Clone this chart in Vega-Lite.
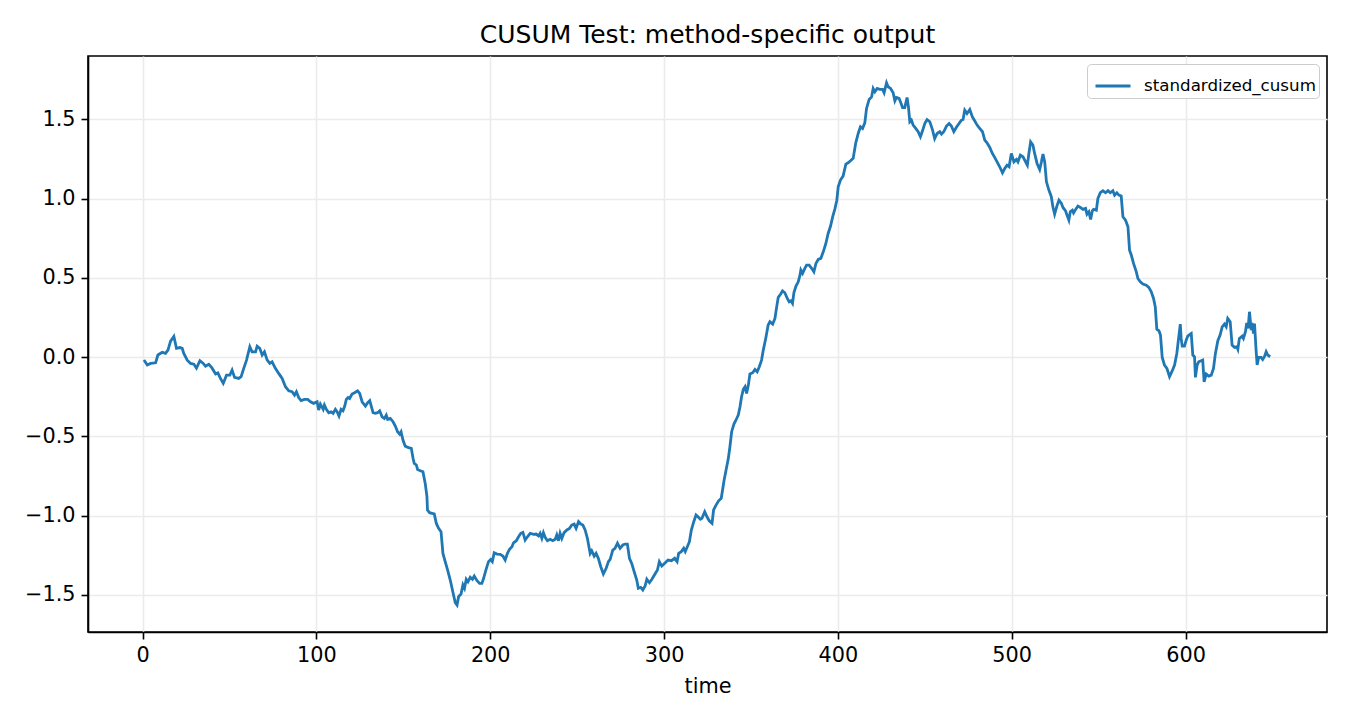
{
  "$schema": "https://vega.github.io/schema/vega-lite/v6.json",
  "description": "CUSUM test: standardized cusum over time",
  "width": 1239,
  "height": 576,
  "autosize": "none",
  "padding": {"left": 88, "top": 56, "right": 23, "bottom": 88},
  "background": "white",
  "title": {
    "text": "CUSUM Test: method-specific output",
    "font": "DejaVu Sans",
    "fontSize": 25,
    "fontWeight": "normal",
    "color": "black",
    "anchor": "middle",
    "baseline": "alphabetic",
    "offset": 12,
    "dy": 24
  },
  "data": {
    "values": [
      {"time": 0.8, "value": -0.019}, {"time": 2.7, "value": -0.05}, {"time": 4.6, "value": -0.04}, {"time": 7.5, "value": -0.036},
      {"time": 8.8, "value": 0.013}, {"time": 11.3, "value": 0.03}, {"time": 13.2, "value": 0.023}, {"time": 14.6, "value": 0.044},
      {"time": 16.1, "value": 0.1}, {"time": 18, "value": 0.13}, {"time": 19.5, "value": 0.055}, {"time": 21.5, "value": 0.06},
      {"time": 22.8, "value": 0.055}, {"time": 23.7, "value": 0.023}, {"time": 25.7, "value": -0.02}, {"time": 27.6, "value": -0.04},
      {"time": 29.5, "value": -0.045}, {"time": 31, "value": -0.07}, {"time": 33, "value": -0.023}, {"time": 34.9, "value": -0.04},
      {"time": 36.2, "value": -0.057}, {"time": 38.1, "value": -0.045}, {"time": 40, "value": -0.07}, {"time": 42, "value": -0.107},
      {"time": 43.3, "value": -0.1}, {"time": 44.8, "value": -0.135}, {"time": 46.4, "value": -0.166}, {"time": 48.3, "value": -0.114},
      {"time": 50.2, "value": -0.114}, {"time": 51.5, "value": -0.082}, {"time": 52.9, "value": -0.128}, {"time": 55.3, "value": -0.135},
      {"time": 56.7, "value": -0.124}, {"time": 58.2, "value": -0.071}, {"time": 59.8, "value": -0.019}, {"time": 61.7, "value": 0.065},
      {"time": 63, "value": 0.033}, {"time": 65, "value": 0.033}, {"time": 65.9, "value": 0.069}, {"time": 67.4, "value": 0.055},
      {"time": 68.8, "value": 0.013}, {"time": 70.1, "value": 0.033}, {"time": 71.7, "value": -0.019}, {"time": 73.2, "value": -0.04},
      {"time": 74.5, "value": -0.03}, {"time": 76.4, "value": -0.071}, {"time": 78.3, "value": -0.103}, {"time": 80.3, "value": -0.135},
      {"time": 82.2, "value": -0.187}, {"time": 84.1, "value": -0.213}, {"time": 86, "value": -0.219}, {"time": 87.4, "value": -0.24},
      {"time": 88.5, "value": -0.219}, {"time": 89.8, "value": -0.255}, {"time": 91.2, "value": -0.275}, {"time": 93.1, "value": -0.267},
      {"time": 95, "value": -0.267}, {"time": 96.6, "value": -0.282}, {"time": 98.4, "value": -0.292}, {"time": 100.4, "value": -0.282},
      {"time": 101.3, "value": -0.334}, {"time": 102.3, "value": -0.297}, {"time": 103.9, "value": -0.33}, {"time": 104.6, "value": -0.303},
      {"time": 105.7, "value": -0.33}, {"time": 107.1, "value": -0.351}, {"time": 108.4, "value": -0.345}, {"time": 109.6, "value": -0.355},
      {"time": 110.9, "value": -0.33}, {"time": 111.9, "value": -0.345}, {"time": 113, "value": -0.372}, {"time": 114.2, "value": -0.33},
      {"time": 115.3, "value": -0.339}, {"time": 116.3, "value": -0.309}, {"time": 117.2, "value": -0.267}, {"time": 118.2, "value": -0.255},
      {"time": 119.1, "value": -0.261}, {"time": 120.5, "value": -0.233}, {"time": 122, "value": -0.225}, {"time": 123.7, "value": -0.213},
      {"time": 124.9, "value": -0.229}, {"time": 126.3, "value": -0.282}, {"time": 128.2, "value": -0.309}, {"time": 129.5, "value": -0.288},
      {"time": 130.7, "value": -0.275}, {"time": 131.4, "value": -0.303}, {"time": 132.6, "value": -0.351}, {"time": 133.9, "value": -0.355},
      {"time": 135.2, "value": -0.351}, {"time": 136.4, "value": -0.339}, {"time": 137.8, "value": -0.377}, {"time": 139.1, "value": -0.387},
      {"time": 140.2, "value": -0.366}, {"time": 141, "value": -0.393}, {"time": 142.5, "value": -0.387}, {"time": 144.1, "value": -0.408},
      {"time": 145.4, "value": -0.435}, {"time": 146.7, "value": -0.471}, {"time": 147.9, "value": -0.486}, {"time": 148.7, "value": -0.471},
      {"time": 149.8, "value": -0.524}, {"time": 151.1, "value": -0.562}, {"time": 153, "value": -0.572}, {"time": 154.6, "value": -0.576},
      {"time": 155.6, "value": -0.639}, {"time": 156.3, "value": -0.671}, {"time": 157.5, "value": -0.681}, {"time": 158.2, "value": -0.709},
      {"time": 159.8, "value": -0.717}, {"time": 161.3, "value": -0.724}, {"time": 162.6, "value": -0.797}, {"time": 163.6, "value": -0.881},
      {"time": 163.9, "value": -0.965}, {"time": 165.1, "value": -0.982}, {"time": 166.5, "value": -0.986}, {"time": 167.8, "value": -0.99},
      {"time": 169, "value": -1.05}, {"time": 170.3, "value": -1.081}, {"time": 171.7, "value": -1.102}, {"time": 172.8, "value": -1.239},
      {"time": 174.1, "value": -1.291}, {"time": 175.5, "value": -1.344}, {"time": 177, "value": -1.407}, {"time": 178.6, "value": -1.487},
      {"time": 179.9, "value": -1.55}, {"time": 180.9, "value": -1.565}, {"time": 181.8, "value": -1.512}, {"time": 183.2, "value": -1.495},
      {"time": 184.3, "value": -1.438}, {"time": 185.2, "value": -1.459}, {"time": 186.2, "value": -1.402}, {"time": 187.2, "value": -1.418},
      {"time": 188.5, "value": -1.39}, {"time": 189.8, "value": -1.402}, {"time": 190.8, "value": -1.382}, {"time": 192.4, "value": -1.411},
      {"time": 193.9, "value": -1.428}, {"time": 195.2, "value": -1.428}, {"time": 196.2, "value": -1.396}, {"time": 197.5, "value": -1.344},
      {"time": 199, "value": -1.291}, {"time": 200.2, "value": -1.278}, {"time": 201.2, "value": -1.291}, {"time": 202.3, "value": -1.235},
      {"time": 203.9, "value": -1.243}, {"time": 205.7, "value": -1.245}, {"time": 207.3, "value": -1.256}, {"time": 208.6, "value": -1.281},
      {"time": 209.9, "value": -1.239}, {"time": 211.1, "value": -1.213}, {"time": 212.5, "value": -1.197}, {"time": 213.4, "value": -1.172},
      {"time": 215, "value": -1.159}, {"time": 216.3, "value": -1.134}, {"time": 217.6, "value": -1.112}, {"time": 218.8, "value": -1.106},
      {"time": 220.1, "value": -1.155}, {"time": 221.4, "value": -1.134}, {"time": 223, "value": -1.112}, {"time": 224.9, "value": -1.119},
      {"time": 226.4, "value": -1.117}, {"time": 227.8, "value": -1.129}, {"time": 228.7, "value": -1.112}, {"time": 229.7, "value": -1.144},
      {"time": 230.6, "value": -1.108}, {"time": 231.6, "value": -1.137}, {"time": 232.9, "value": -1.159}, {"time": 234.5, "value": -1.15},
      {"time": 236, "value": -1.159}, {"time": 237.4, "value": -1.15}, {"time": 238.3, "value": -1.123}, {"time": 239.3, "value": -1.159},
      {"time": 240.2, "value": -1.112}, {"time": 241.2, "value": -1.144}, {"time": 242.5, "value": -1.108}, {"time": 244.1, "value": -1.091},
      {"time": 245.6, "value": -1.081}, {"time": 246.9, "value": -1.06}, {"time": 248.3, "value": -1.054}, {"time": 249.4, "value": -1.081},
      {"time": 250.8, "value": -1.039}, {"time": 252.1, "value": -1.054}, {"time": 253.3, "value": -1.06}, {"time": 254.6, "value": -1.091},
      {"time": 255.9, "value": -1.144}, {"time": 257.5, "value": -1.239}, {"time": 258.4, "value": -1.222}, {"time": 259.8, "value": -1.256},
      {"time": 260.9, "value": -1.239}, {"time": 262.2, "value": -1.27}, {"time": 263.6, "value": -1.323}, {"time": 265.1, "value": -1.369},
      {"time": 266.7, "value": -1.333}, {"time": 268, "value": -1.291}, {"time": 269, "value": -1.276}, {"time": 270.5, "value": -1.218},
      {"time": 271.8, "value": -1.207}, {"time": 273.2, "value": -1.175}, {"time": 274.7, "value": -1.207}, {"time": 276.3, "value": -1.186},
      {"time": 277.6, "value": -1.18}, {"time": 278.9, "value": -1.18}, {"time": 280.1, "value": -1.27}, {"time": 281.4, "value": -1.302},
      {"time": 282.8, "value": -1.354}, {"time": 284.3, "value": -1.407}, {"time": 285.2, "value": -1.459}, {"time": 286.6, "value": -1.453},
      {"time": 287.8, "value": -1.47}, {"time": 289.1, "value": -1.445}, {"time": 290.1, "value": -1.402}, {"time": 291.6, "value": -1.424},
      {"time": 293, "value": -1.402}, {"time": 294.8, "value": -1.369}, {"time": 296.2, "value": -1.344}, {"time": 297.3, "value": -1.291},
      {"time": 298.7, "value": -1.319}, {"time": 300.7, "value": -1.298}, {"time": 302.3, "value": -1.281}, {"time": 304.2, "value": -1.285},
      {"time": 306.1, "value": -1.27}, {"time": 307.5, "value": -1.291}, {"time": 308.4, "value": -1.239}, {"time": 309.9, "value": -1.228},
      {"time": 311.3, "value": -1.207}, {"time": 312.2, "value": -1.228}, {"time": 313.8, "value": -1.186}, {"time": 314.6, "value": -1.165},
      {"time": 315.7, "value": -1.092}, {"time": 317.1, "value": -1.039}, {"time": 318.4, "value": -0.997}, {"time": 319.5, "value": -1.008},
      {"time": 320.9, "value": -1.024}, {"time": 321.8, "value": -1.018}, {"time": 323.4, "value": -0.976}, {"time": 324.7, "value": -1.008},
      {"time": 326, "value": -1.033}, {"time": 327.6, "value": -1.049}, {"time": 328.5, "value": -0.965}, {"time": 329.9, "value": -0.934},
      {"time": 331.4, "value": -0.907}, {"time": 332.9, "value": -0.891}, {"time": 333.8, "value": -0.83}, {"time": 334.5, "value": -0.78},
      {"time": 335.6, "value": -0.717}, {"time": 337, "value": -0.639}, {"time": 337.9, "value": -0.566}, {"time": 338.9, "value": -0.471},
      {"time": 340.2, "value": -0.423}, {"time": 341.4, "value": -0.397}, {"time": 342.7, "value": -0.366}, {"time": 343.7, "value": -0.313},
      {"time": 344.6, "value": -0.25}, {"time": 345.6, "value": -0.204}, {"time": 346.6, "value": -0.187}, {"time": 347.5, "value": -0.229},
      {"time": 348.5, "value": -0.177}, {"time": 349.4, "value": -0.107}, {"time": 351, "value": -0.099}, {"time": 352.3, "value": -0.078},
      {"time": 353.6, "value": -0.093}, {"time": 354.8, "value": -0.061}, {"time": 356.1, "value": -0.019}, {"time": 357.1, "value": 0.044},
      {"time": 358.6, "value": 0.124}, {"time": 359.9, "value": 0.202}, {"time": 360.9, "value": 0.223}, {"time": 362.5, "value": 0.208},
      {"time": 363.8, "value": 0.244}, {"time": 364.8, "value": 0.317}, {"time": 365.7, "value": 0.377}, {"time": 367.1, "value": 0.398},
      {"time": 368.2, "value": 0.418}, {"time": 369.5, "value": 0.406}, {"time": 370.9, "value": 0.37}, {"time": 372, "value": 0.349},
      {"time": 373, "value": 0.355}, {"time": 373.9, "value": 0.339}, {"time": 374.7, "value": 0.406}, {"time": 375.9, "value": 0.448},
      {"time": 377.2, "value": 0.475}, {"time": 378.2, "value": 0.517}, {"time": 378.7, "value": 0.549}, {"time": 379.7, "value": 0.528},
      {"time": 381, "value": 0.56}, {"time": 382, "value": 0.58}, {"time": 383.5, "value": 0.58}, {"time": 384.9, "value": 0.56},
      {"time": 386.2, "value": 0.538}, {"time": 387.4, "value": 0.591}, {"time": 388.7, "value": 0.616}, {"time": 390.2, "value": 0.623},
      {"time": 391.6, "value": 0.664}, {"time": 393.1, "value": 0.717}, {"time": 394.4, "value": 0.78}, {"time": 395.8, "value": 0.827},
      {"time": 397, "value": 0.885}, {"time": 398.3, "value": 0.935}, {"time": 399.4, "value": 0.99}, {"time": 400.2, "value": 1.074},
      {"time": 401.5, "value": 1.117}, {"time": 403, "value": 1.142}, {"time": 404.6, "value": 1.218}, {"time": 405.9, "value": 1.226},
      {"time": 407.3, "value": 1.239}, {"time": 408.8, "value": 1.254}, {"time": 410.3, "value": 1.352}, {"time": 411.7, "value": 1.411},
      {"time": 413, "value": 1.453}, {"time": 414.2, "value": 1.443}, {"time": 415.5, "value": 1.478}, {"time": 416.5, "value": 1.569},
      {"time": 418, "value": 1.626}, {"time": 419.4, "value": 1.642}, {"time": 420.3, "value": 1.695}, {"time": 421.3, "value": 1.674},
      {"time": 422.6, "value": 1.695}, {"time": 424.1, "value": 1.689}, {"time": 425.7, "value": 1.689}, {"time": 426.6, "value": 1.668},
      {"time": 428, "value": 1.731}, {"time": 428.9, "value": 1.706}, {"time": 430.3, "value": 1.695}, {"time": 431.8, "value": 1.668},
      {"time": 432.8, "value": 1.617}, {"time": 433.7, "value": 1.638}, {"time": 435.2, "value": 1.632}, {"time": 436, "value": 1.611},
      {"time": 437.2, "value": 1.575}, {"time": 438.5, "value": 1.575}, {"time": 439.8, "value": 1.638}, {"time": 440.6, "value": 1.579},
      {"time": 441.4, "value": 1.485}, {"time": 442.3, "value": 1.495}, {"time": 443.3, "value": 1.464}, {"time": 444.8, "value": 1.443},
      {"time": 446.2, "value": 1.422}, {"time": 447.5, "value": 1.39}, {"time": 448.7, "value": 1.428}, {"time": 450, "value": 1.474},
      {"time": 451.3, "value": 1.499}, {"time": 452.9, "value": 1.485}, {"time": 454.4, "value": 1.436}, {"time": 455.7, "value": 1.379},
      {"time": 457.1, "value": 1.411}, {"time": 458.6, "value": 1.422}, {"time": 459.6, "value": 1.407}, {"time": 460.9, "value": 1.422},
      {"time": 462.5, "value": 1.458}, {"time": 464, "value": 1.474}, {"time": 465.3, "value": 1.458}, {"time": 466.7, "value": 1.422},
      {"time": 468.2, "value": 1.45}, {"time": 469.7, "value": 1.474}, {"time": 471.1, "value": 1.495}, {"time": 472, "value": 1.499},
      {"time": 473, "value": 1.558}, {"time": 474.3, "value": 1.537}, {"time": 475.9, "value": 1.562}, {"time": 477.4, "value": 1.516},
      {"time": 478.7, "value": 1.491}, {"time": 480.1, "value": 1.464}, {"time": 481.6, "value": 1.443}, {"time": 483.2, "value": 1.422},
      {"time": 484.5, "value": 1.369}, {"time": 485.8, "value": 1.352}, {"time": 487.4, "value": 1.323}, {"time": 488.9, "value": 1.285},
      {"time": 490.2, "value": 1.26}, {"time": 491.6, "value": 1.232}, {"time": 493.1, "value": 1.201}, {"time": 494.7, "value": 1.163},
      {"time": 496, "value": 1.19}, {"time": 497.3, "value": 1.211}, {"time": 498.5, "value": 1.201}, {"time": 499.8, "value": 1.285},
      {"time": 501.3, "value": 1.232}, {"time": 502.7, "value": 1.247}, {"time": 503.6, "value": 1.232}, {"time": 505, "value": 1.274},
      {"time": 506.5, "value": 1.264}, {"time": 508, "value": 1.232}, {"time": 509, "value": 1.211}, {"time": 509.9, "value": 1.285},
      {"time": 510.9, "value": 1.358}, {"time": 512.2, "value": 1.338}, {"time": 513.2, "value": 1.285}, {"time": 514.6, "value": 1.222},
      {"time": 516.1, "value": 1.184}, {"time": 517.1, "value": 1.232}, {"time": 518, "value": 1.281}, {"time": 519, "value": 1.232},
      {"time": 520, "value": 1.106}, {"time": 521.4, "value": 1.054}, {"time": 522.8, "value": 1.012}, {"time": 523.7, "value": 0.948},
      {"time": 524.7, "value": 0.902}, {"time": 526, "value": 0.953}, {"time": 527.2, "value": 0.99}, {"time": 528.6, "value": 0.97},
      {"time": 529.5, "value": 0.944}, {"time": 531, "value": 0.923}, {"time": 531.8, "value": 0.896}, {"time": 532.9, "value": 0.864},
      {"time": 533.7, "value": 0.917}, {"time": 534.9, "value": 0.927}, {"time": 535.6, "value": 0.91}, {"time": 536.8, "value": 0.932},
      {"time": 538.1, "value": 0.953}, {"time": 539.5, "value": 0.944}, {"time": 541, "value": 0.932}, {"time": 542.5, "value": 0.938},
      {"time": 543.3, "value": 0.902}, {"time": 544.4, "value": 0.917}, {"time": 545.4, "value": 0.869}, {"time": 546.4, "value": 0.923},
      {"time": 547.1, "value": 0.932}, {"time": 548.7, "value": 0.927}, {"time": 549.6, "value": 1.001}, {"time": 551, "value": 1.037},
      {"time": 552.5, "value": 1.05}, {"time": 554, "value": 1.037}, {"time": 555.4, "value": 1.05}, {"time": 556.7, "value": 1.037},
      {"time": 558.2, "value": 1.05}, {"time": 559.2, "value": 1.022}, {"time": 560.5, "value": 1.037}, {"time": 561.7, "value": 1.022},
      {"time": 563, "value": 1.016}, {"time": 564, "value": 0.885}, {"time": 565.5, "value": 0.864}, {"time": 566.9, "value": 0.822},
      {"time": 567.8, "value": 0.675}, {"time": 568.8, "value": 0.644}, {"time": 570.1, "value": 0.591}, {"time": 571.7, "value": 0.538},
      {"time": 572.6, "value": 0.496}, {"time": 574, "value": 0.475}, {"time": 575.5, "value": 0.461}, {"time": 577.4, "value": 0.454},
      {"time": 578.9, "value": 0.44}, {"time": 580.3, "value": 0.412}, {"time": 581.6, "value": 0.37}, {"time": 582.6, "value": 0.317},
      {"time": 583.5, "value": 0.175}, {"time": 584.7, "value": 0.166}, {"time": 585.6, "value": 0.139}, {"time": 586.6, "value": -0.002},
      {"time": 587.9, "value": -0.05}, {"time": 589.3, "value": -0.071}, {"time": 590.8, "value": -0.124}, {"time": 592.4, "value": -0.086},
      {"time": 593.7, "value": -0.05}, {"time": 595, "value": 0.023}, {"time": 595.8, "value": 0.097}, {"time": 597, "value": 0.208},
      {"time": 597.5, "value": 0.118}, {"time": 598.1, "value": 0.069}, {"time": 599.4, "value": 0.069}, {"time": 600.4, "value": 0.107},
      {"time": 601.3, "value": 0.132}, {"time": 602.7, "value": 0.145}, {"time": 603.3, "value": 0.149}, {"time": 604.2, "value": 0.013},
      {"time": 605.2, "value": 0.002}, {"time": 605.7, "value": -0.128}, {"time": 606.7, "value": -0.05}, {"time": 607.6, "value": -0.03},
      {"time": 609, "value": -0.023}, {"time": 609.9, "value": -0.019}, {"time": 610.7, "value": -0.156}, {"time": 611.9, "value": -0.107},
      {"time": 613.4, "value": -0.12}, {"time": 614.8, "value": -0.114}, {"time": 616.1, "value": -0.071}, {"time": 617.2, "value": 0.023},
      {"time": 618.6, "value": 0.103}, {"time": 619.9, "value": 0.139}, {"time": 621.1, "value": 0.191}, {"time": 622.4, "value": 0.208},
      {"time": 623.4, "value": 0.191}, {"time": 624.3, "value": 0.244}, {"time": 625.7, "value": 0.223}, {"time": 626.8, "value": 0.076},
      {"time": 628.2, "value": 0.061}, {"time": 629.5, "value": 0.065}, {"time": 630.1, "value": 0.049}, {"time": 631, "value": 0.118},
      {"time": 632.6, "value": 0.132}, {"time": 633.3, "value": 0.118}, {"time": 634.5, "value": 0.16}, {"time": 635.2, "value": 0.216},
      {"time": 636, "value": 0.181}, {"time": 636.8, "value": 0.286}, {"time": 637.8, "value": 0.17}, {"time": 638.3, "value": 0.216},
      {"time": 639.1, "value": 0.149}, {"time": 639.7, "value": 0.212}, {"time": 640.6, "value": 0.044}, {"time": 641.2, "value": -0.05},
      {"time": 642.1, "value": -0.002}, {"time": 643.5, "value": -0.002}, {"time": 644.4, "value": -0.015}, {"time": 645.4, "value": 0.002},
      {"time": 646.4, "value": 0.034}, {"time": 647.3, "value": 0.013}, {"time": 648.7, "value": 0.002}
    ]
  },
  "mark": {"type": "line", "strokeWidth": 2.8, "clip": true},
  "encoding": {
    "x": {
      "field": "time",
      "type": "quantitative",
      "title": "time",
      "scale": {"domain": [-31.4, 681.4], "nice": false, "zero": false},
      "axis": {"values": [0, 100, 200, 300, 400, 500, 600], "format": "d", "titlePadding": 12}
    },
    "y": {
      "field": "value",
      "type": "quantitative",
      "title": null,
      "scale": {"domain": [-1.735, 1.9], "nice": false, "zero": false},
      "axis": {"values": [-1.5, -1, -0.5, 0, 0.5, 1, 1.5], "format": ".1f"}
    },
    "color": {
      "datum": "standardized_cusum",
      "type": "nominal",
      "scale": {"range": ["#1f77b4"]},
      "legend": {
        "title": null,
        "orient": "top-right",
        "offset": 8,
        "symbolType": "stroke",
        "symbolSize": 1225,
        "symbolStrokeWidth": 2.8,
        "symbolOffset": 4,
        "labelFont": "DejaVu Sans",
        "labelFontSize": 16.7,
        "labelColor": "black",
        "labelOffset": 12,
        "labelLimit": 400,
        "padding": 3,
        "strokeColor": "#cccccc",
        "fillColor": "white",
        "cornerRadius": 4
      }
    }
  },
  "config": {
    "view": {"stroke": "black", "strokeWidth": 1.6},
    "axis": {
      "domainColor": "black",
      "domainWidth": 1.6,
      "tickColor": "black",
      "tickWidth": 1.6,
      "tickSize": 7,
      "labelFont": "DejaVu Sans",
      "labelFontSize": 20.8,
      "labelColor": "black",
      "labelPadding": 6,
      "labelFlush": false,
      "labelOverlap": false,
      "gridColor": "#ebebeb",
      "gridWidth": 1.6,
      "titleFont": "DejaVu Sans",
      "titleFontSize": 20.8,
      "titleFontWeight": "normal",
      "titleColor": "black",
      "titlePadding": 7
    }
  }
}
